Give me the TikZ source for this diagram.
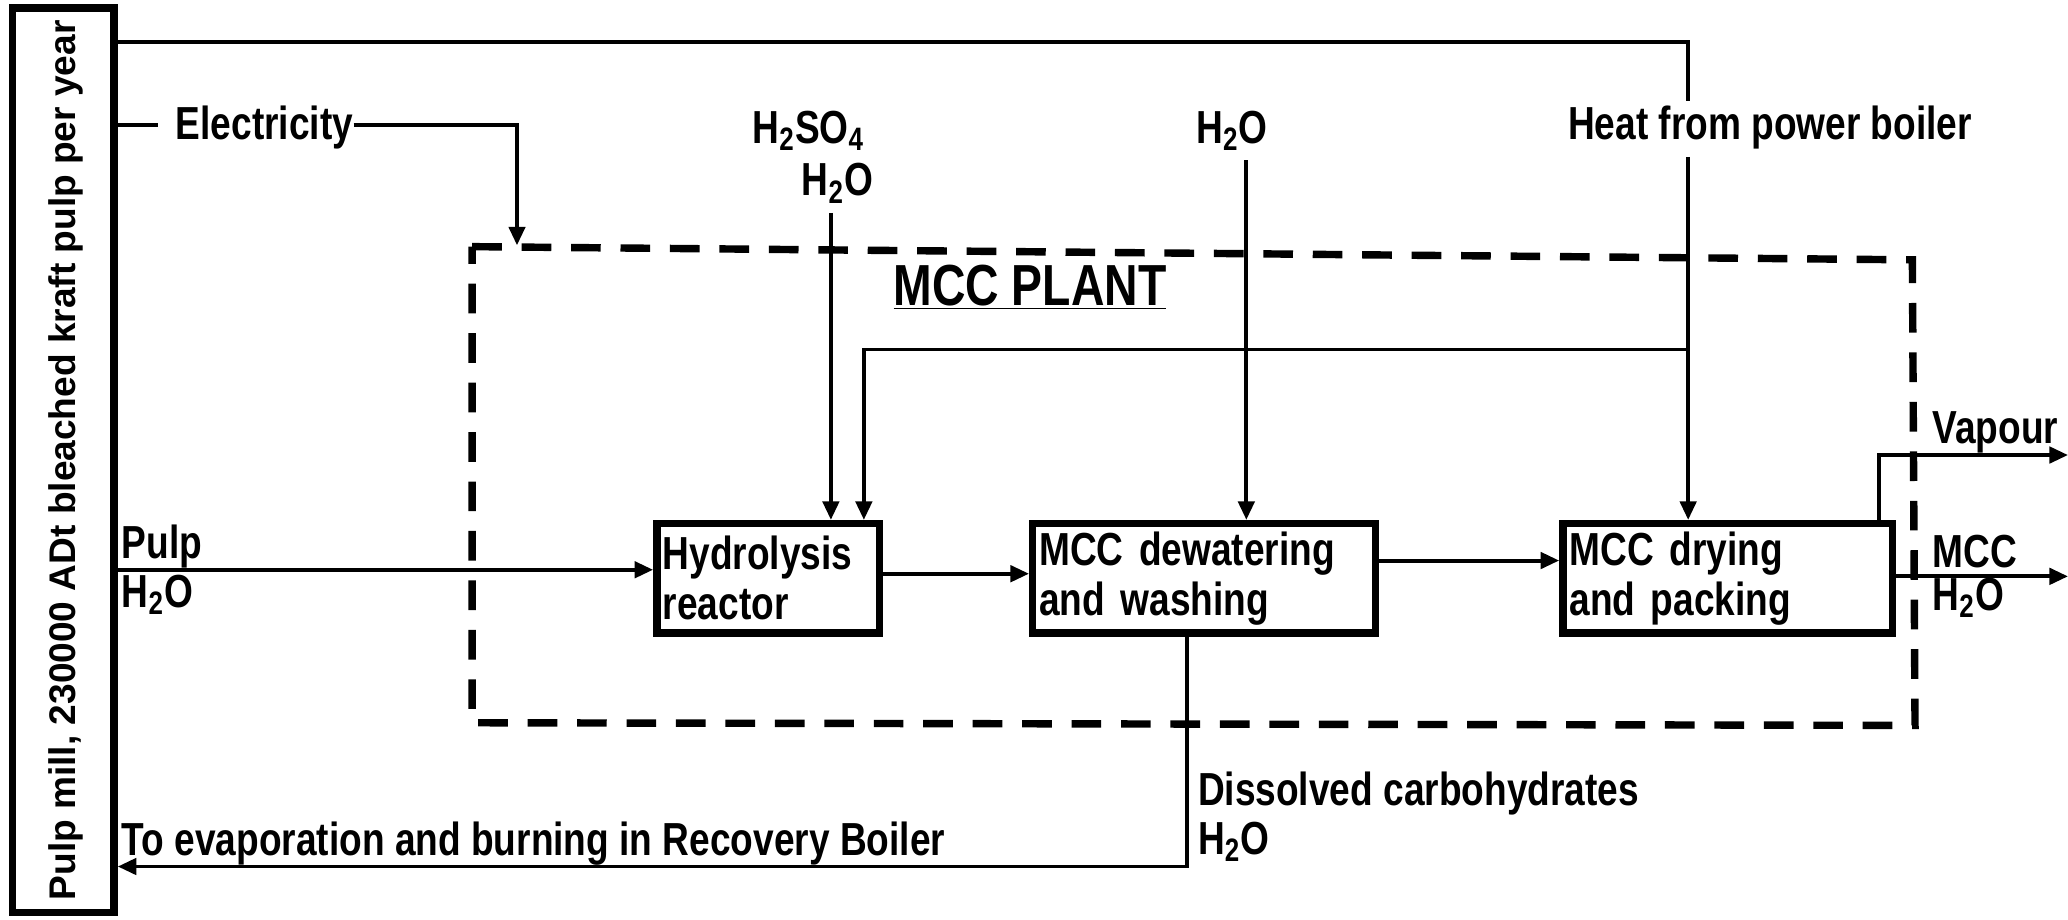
\documentclass[tikz,border=0pt]{standalone}
\usepackage{fontspec}
\setmainfont[FakeStretch=0.8]{Liberation Sans}
\newfontfamily\widefont{Liberation Sans}
\usetikzlibrary{arrows.meta}
\begin{document}
\begin{tikzpicture}[x=0.02cm,y=-0.02cm,
  lbl/.style={inner sep=0pt, font=\fontsize{20}{21}\selectfont\bfseries},
  proc/.style={draw, line width=3.2pt, align=left, inner sep=1.5pt,
    font=\fontsize{20}{21.5}\selectfont\bfseries, minimum height=1.66cm},
  conn/.style={line width=1.7pt},
  arr/.style={line width=1.7pt, -{Triangle[length=8pt,width=7pt]}},
  plant/.style={line width=3.2pt, dash pattern=on 0.45cm off 0.3cm}]
\useasboundingbox (0,0) rectangle (1568,697);
% pulp mill box
\node[draw, line width=3.2pt, minimum width=1.54cm, minimum height=13.72cm, inner sep=0pt] (mill) at (48,349) {};
\node[rotate=90, inner sep=0pt, font=\widefont\fontsize{16}{17}\selectfont\bfseries] (milltxt) at (50,349) {Pulp mill, 230000 ADt bleached kraft pulp per year};
% MCC plant dashed boundary
\draw[plant] (358,187) -- (1450,197) -- (1452,550) -- (358,548) -- cycle;
\node[inner sep=0pt, font=\fontsize{25}{26}\selectfont\bfseries] (plantlbl) at (781,218) {\underline{MCC PLANT}};
% process boxes
\node[proc, minimum width=3.38cm, text width=3.2cm] (hyd) at (582.5,438.5) {Hydrolysis\\reactor};
\node[proc, minimum width=5.2cm, text width=5.0cm] (dew) at (913,438.5) {MCC dewatering\\and washing};
\node[proc, minimum width=5.0cm, text width=4.8cm] (dry) at (1310,438.5) {MCC drying\\and packing};
% labels
\node[lbl, anchor=west] (elec) at (133,97) {Electricity};
\node[lbl] (heat) at (1342,97) {Heat from power boiler};
\node[lbl] (acid) at (613,99) {H\textsubscript{2}SO\textsubscript{4}};
\node[lbl] (acidw) at (635,139) {H\textsubscript{2}O};
\node[lbl] (washw) at (934,99) {H\textsubscript{2}O};
\node[lbl, anchor=west] (pulp) at (92,414) {Pulp};
\node[lbl, anchor=west] (pulpw) at (92,451) {H\textsubscript{2}O};
\node[lbl, anchor=west] (vap) at (1465,328) {Vapour};
\node[lbl, anchor=west] (mcc) at (1465,418) {MCC};
\node[lbl, anchor=west] (mccw) at (1465,453) {H\textsubscript{2}O};
\node[lbl, anchor=west] (diss) at (908,602) {Dissolved carbohydrates};
\node[lbl, anchor=west] (dissw) at (908,638) {H\textsubscript{2}O};
\node[lbl, anchor=west] (evap) at (92,640) {To evaporation and burning in Recovery Boiler};
% coordinates
\coordinate (hA) at (1280,32);
\coordinate (hB) at (1280,265);
\coordinate (hC) at (655,265);
\coordinate (eA) at (392,95);
\coordinate (eIn) at (392,186);
\coordinate (eB) at (120,95);
\coordinate (aX) at (630,0);
\coordinate (wX) at (945,0);
\coordinate (pY) at (0,432);
\coordinate (hdY) at (0,435);
\coordinate (ddY) at (0,425);
\coordinate (vA) at (1425,345);
\coordinate (vOut) at (1568,345);
\coordinate (mOut) at (1568,437);
\coordinate (dD) at (900,657);
% heat
\draw[conn] (mill.east |- hA) -- (hA) -- ([yshift=2pt]heat.north -| hA);
\draw[arr] ([yshift=-3pt]heat.south -| hA) -- (dry.north -| hA);
\draw[arr] (hB) -- (hC) -- (hyd.north -| hC);
% electricity
\draw[conn] (mill.east |- eB) -- (eB);
\draw[arr] (elec.east |- eA) -- (eA) -- (eIn);
% acid and water
\draw[arr] ([yshift=-4pt]acidw.south -| aX) -- (hyd.north -| aX);
\draw[arr] ([yshift=-4pt]washw.south -| wX) -- (dew.north -| wX);
% main flow
\draw[arr] (mill.east |- pY) -- (hyd.west |- pY);
\draw[arr] (hyd.east |- hdY) -- (dew.west |- hdY);
\draw[arr] (dew.east |- ddY) -- (dry.west |- ddY);
\draw[arr] (dry.east |- mOut) -- (mOut);
\draw[arr] (dry.north -| vA) -- (vA) -- (vOut);
% dissolved carbohydrates back to mill
\draw[arr] (dew.south -| dD) -- (dD) -- (mill.east |- dD);
\end{tikzpicture}
\end{document}
